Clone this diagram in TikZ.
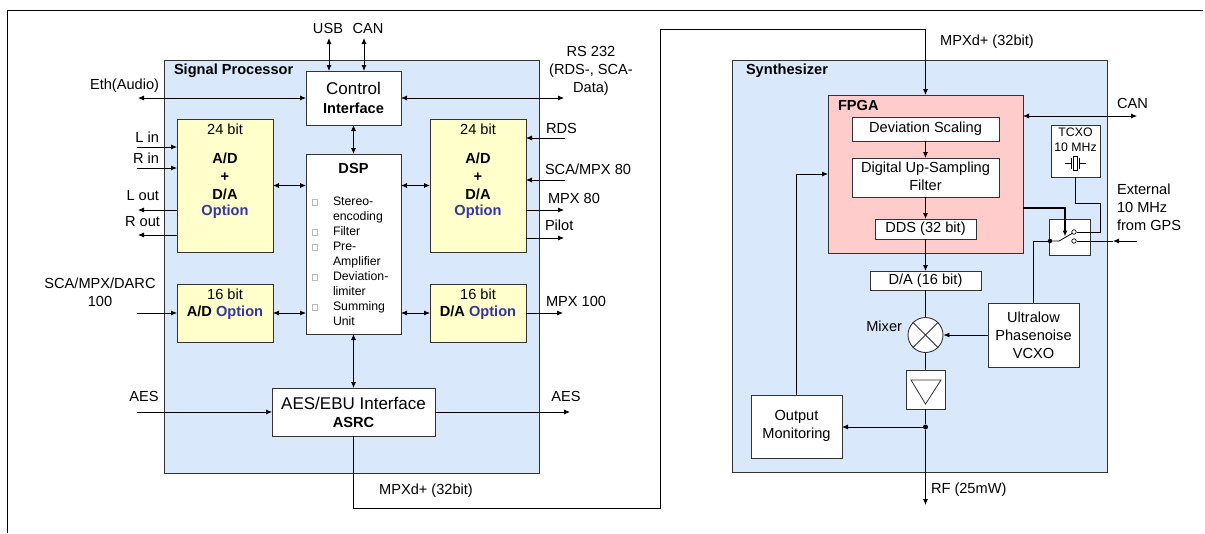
\documentclass[tikz,border=0pt]{standalone}
\usepackage{fontspec}
\setmainfont{Liberation Sans}
\usetikzlibrary{arrows.meta}
\definecolor{panel}{HTML}{DAE8FC}
\definecolor{yel}{HTML}{FFFFCC}
\definecolor{pinkf}{HTML}{FFCCCC}
\definecolor{optblue}{HTML}{3535A5}
\definecolor{edge}{HTML}{333333}
\newcommand\myN{\fontsize{14.6}{18}\selectfont}
\newcommand\myL{\fontsize{17}{19}\selectfont}
\newcommand\myS{\fontsize{12.3}{15}\selectfont}
\tikzset{
  panelbox/.style={draw=edge, fill=panel, line width=1pt, anchor=north west, inner sep=0pt, outer sep=0pt},
  wbox/.style={draw=edge, fill=white, line width=0.9pt, anchor=north west, inner sep=0pt, outer sep=0pt},
  ybox/.style={wbox, fill=yel},
  pbox/.style={wbox, fill=pinkf},
  txt/.style={inner sep=0pt, outer sep=0pt, align=center, font=\myN},
  ln/.style={line width=0.8pt, draw=black},
  arr/.style={ln, -{Latex[length=6pt,width=5pt]}},
  darr/.style={ln, {Latex[length=6pt,width=5pt]}-{Latex[length=6pt,width=5pt]}},
  dot/.style={circle, fill=black, inner sep=0pt, minimum size=5pt},
  ring/.style={circle, draw=black, fill=white, line width=0.7pt, inner sep=0pt, minimum size=4.5pt},
}
\begin{document}
\begin{tikzpicture}[x=1pt,y=-1pt]
\fill[white] (0,0) rectangle (1205,533);
\useasboundingbox (0,0) rectangle (1205,533);
% outer frame
\draw[ln] (7,533) -- (7,10) -- (1203,10);

% ================= Signal processor =================
\node[panelbox, minimum width=375pt, minimum height=413pt] (sp) at (164,60) {};
\node[txt, font=\myN\bfseries, anchor=west] (spl) at (174,71) {Signal Processor};

\node[wbox, minimum width=95pt, minimum height=54pt] (ctrl) at (306,71) {};
\node[txt, font=\myL] (ctrlA) at (353.5,88.5) {Control};
\node[txt, font=\myN\bfseries] (ctrlB) at (353.5,108) {Interface};

\node[wbox, minimum width=95pt, minimum height=180pt] (dsp) at (306,154) {};
\node[txt, font=\myN\bfseries] (dspl) at (353.5,168) {DSP};
\foreach \t/\yy [count=\i] in {Stereo-/202, encoding/217, Filter/232, Pre-/247, Amplifier/262, Deviation-/277, limiter/292, Summing/307, Unit/322}
  \node[txt, font=\myS, anchor=west, text height=9pt, text depth=2.6pt] (dli\i) at (333,\yy) {\t};
\foreach \yy in {202,232,247,277,307}
  \draw[gray!55, line width=0.6pt] (312,\yy-3) rectangle (317,\yy+3);

\node[ybox, minimum width=96pt, minimum height=133pt] (adl) at (177,119) {};
\node[txt] (adl1) at (225,129) {24 bit};
\node[txt, font=\myN\bfseries] (adl2) at (225,158) {A/D};
\node[txt, font=\myN\bfseries] (adl3) at (225,177) {+};
\node[txt, font=\myN\bfseries] (adl4) at (225,194) {D/A};
\node[txt, font=\myN\bfseries, text=optblue] (adl5) at (225,212) {Option};

\node[ybox, minimum width=96pt, minimum height=133pt] (adr) at (430,119) {};
\node[txt] (adr1) at (478,129) {24 bit};
\node[txt, font=\myN\bfseries] (adr2) at (478,158) {A/D};
\node[txt, font=\myN\bfseries] (adr3) at (478,177) {+};
\node[txt, font=\myN\bfseries] (adr4) at (478,194) {D/A};
\node[txt, font=\myN\bfseries, text=optblue] (adr5) at (478,212) {Option};

\node[ybox, minimum width=96pt, minimum height=58pt] (ad16) at (177,284) {};
\node[txt] (ad161) at (225,294) {16 bit};
\node[txt, font=\myN\bfseries] (ad162) at (225,313) {A/D \textcolor{optblue}{Option}};

\node[ybox, minimum width=96pt, minimum height=58pt] (da16) at (430,284) {};
\node[txt] (da161) at (478,294) {16 bit};
\node[txt, font=\myN\bfseries] (da162) at (478,313) {D/A \textcolor{optblue}{Option}};

\node[wbox, minimum width=163pt, minimum height=48pt] (aes) at (272,388) {};
\node[txt, font=\myL] (aesA) at (353.5,403) {AES/EBU Interface};
\node[txt, font=\myN\bfseries] (aesB) at (353.5,422) {ASRC};

% labels left/right
\node[txt] (usb) at (328,28) {USB};
\node[txt] (can1) at (368,28) {CAN};
\node[txt, anchor=east] (eth) at (159,86) {Eth(Audio)};
\node[txt] (rs) at (591,71) {RS 232\\(RDS-, SCA-\\Data)};
\node[txt, anchor=east] (lin) at (159,137) {L in};
\node[txt, anchor=east] (rin) at (159,158) {R in};
\node[txt, anchor=east] (lout) at (159,196) {L out};
\node[txt, anchor=east] (rout) at (160,222) {R out};
\node[txt, anchor=west] (rds) at (546,128) {RDS};
\node[txt, anchor=west] (sca80) at (545,169) {SCA/MPX 80};
\node[txt, anchor=west] (mpx80) at (548,198) {MPX 80};
\node[txt, anchor=west] (pilot) at (545,225) {Pilot};
\node[txt] (darc) at (100,292.5) {SCA/MPX/DARC\\100};
\node[txt, anchor=west] (mpx100) at (546,301) {MPX 100};
\node[txt] (aesl) at (144,396) {AES};
\node[txt] (aesr) at (566,396) {AES};
\node[txt] (mpxd1) at (426,491) {MPXd+ (32bit)};

% free ends
\coordinate (usbE) at (329,38);
\coordinate (canE) at (364,38);
\coordinate (ethE) at (138,98);
\coordinate (rsE) at (564,98);
\coordinate (linE) at (137,147);
\coordinate (rinE) at (137,168);
\coordinate (loutE) at (138,210);
\coordinate (routE) at (138,235);
\coordinate (rdsE) at (565,138);
\coordinate (sca80E) at (565,180);
\coordinate (mpx80E) at (564,210);
\coordinate (pilotE) at (564,238);
\coordinate (darcE) at (137,313);
\coordinate (mpx100E) at (563,313);
\coordinate (aesInE) at (137,412);
\coordinate (aesOutE) at (570,412);

% connectors
\draw[darr] (usbE) -- (usbE |- ctrl.north);
\draw[darr] (canE) -- (canE |- ctrl.north);
\draw[darr] (ethE) -- (ethE -| ctrl.west);
\draw[darr] (rsE -| ctrl.east) -- (rsE);
\draw[darr] (ctrl.south) -- (dsp.north);
\draw[arr] (linE) -- (linE -| adl.west);
\draw[arr] (rinE) -- (rinE -| adl.west);
\draw[arr] (loutE -| adl.west) -- (loutE);
\draw[arr] (routE -| adl.west) -- (routE);
\draw[darr] (adl.east) -- (adl.east -| dsp.west);
\draw[darr] (adr.west -| dsp.east) -- (adr.west);
\draw[arr] (rdsE) -- (rdsE -| adr.east);
\draw[arr] (sca80E) -- (sca80E -| adr.east);
\draw[arr] (mpx80E -| adr.east) -- (mpx80E);
\draw[arr] (pilotE -| adr.east) -- (pilotE);
\draw[arr] (darcE) -- (ad16.west);
\draw[darr] (ad16.east) -- (ad16.east -| dsp.west);
\draw[darr] (da16.west -| dsp.east) -- (da16.west);
\draw[arr] (da16.east) -- (mpx100E);
\draw[darr] (dsp.south) -- (aes.north);
\draw[arr] (aesInE) -- (aesInE -| aes.west);
\draw[arr] (aes.east) -- (aesOutE);

% ================= Synthesizer =================
\node[panelbox, minimum width=375pt, minimum height=412pt] (syn) at (732,60) {};
\node[txt, font=\myN\bfseries, anchor=west] (synl) at (746,71) {Synthesizer};

\node[pbox, minimum width=195pt, minimum height=158pt] (fpga) at (828,95) {};
\node[txt, font=\myN\bfseries, anchor=west] (fpgal) at (838,105) {FPGA};

\node[wbox, minimum width=147pt, minimum height=24pt] (dev) at (852,117) {};
\node[txt] (devl) at (925.5,129) {Deviation Scaling};
\node[wbox, minimum width=147pt, minimum height=39pt] (dusf) at (852,158) {};
\node[txt] (dusfl) at (925.5,176.5) {Digital Up-Sampling\\Filter};
\node[wbox, minimum width=101pt, minimum height=20pt] (dds) at (875,219) {};
\node[txt] (ddsl) at (925.5,229) {DDS (32 bit)};
\node[wbox, minimum width=111pt, minimum height=19pt] (dac) at (870,271) {};
\node[txt] (dacl) at (925.5,280.5) {D/A (16 bit)};

\node[circle, draw=edge, fill=white, line width=0.9pt, minimum size=35pt, inner sep=0pt] (mix) at (925.5,335) {};
\draw[line width=0.8pt, draw=edge] (mix.north west) -- (mix.south east);
\draw[line width=0.8pt, draw=edge] (mix.north east) -- (mix.south west);
\node[txt, anchor=east] (mixl) at (902,326) {Mixer};

\node[wbox, minimum width=39pt, minimum height=39pt] (amp) at (906,370) {};
\draw[line width=0.8pt, draw=edge] (911,380) -- (941,380) -- (925.5,404) -- cycle;

\node[wbox, minimum width=91pt, minimum height=63pt] (om) at (751,395) {};
\node[txt] (oml) at (796.5,426) {Output\\Monitoring};

\node[wbox, minimum width=91pt, minimum height=64pt] (vcxo) at (988,303) {};
\node[txt] (vcxol) at (1033.5,335) {Ultralow\\Phasenoise\\VCXO};

\node[wbox, minimum width=49pt, minimum height=52pt] (tcxo) at (1051,125) {};
\node[txt, font=\myS] (tcxol) at (1075.5,140) {TCXO\\10 MHz};
% crystal symbol
\draw[line width=0.7pt] (1065,163) -- (1071.5,163) (1071.5,157.5) -- (1071.5,168.5)
  (1079.5,157.5) -- (1079.5,168.5) (1079.5,163) -- (1086,163);
\draw[line width=0.7pt] (1073.7,156) rectangle (1077.3,170);

\node[wbox, minimum width=41pt, minimum height=36pt] (sw) at (1049,219) {};
\node[dot, minimum size=4.5pt] (swDot) at (1050,241) {};
\node[ring] (swU) at (1074,232) {};
\node[ring] (swD) at (1074,241) {};
\coordinate (lev) at (1072,233.5);
\draw[ln] (swDot) -- (1059,241) -- (lev);

\node[txt, anchor=west] (can2) at (1117,103) {CAN};
\node[txt, anchor=west, align=left] (ext) at (1117,207) {External\\10 MHz\\from GPS};
\node[txt] (mpxd2) at (987,42) {MPXd+ (32bit)};
\node[txt, anchor=west] (rf) at (931,490) {RF (25mW)};

\coordinate (canE2) at (1137,116);
\coordinate (extE) at (1137,241);
\coordinate (extM) at (1113,241);
\coordinate (rfE) at (925.5,505);
\coordinate (lpA) at (660,508);
\coordinate (lpB) at (660,29);
\coordinate (swArr) at (1065,236.5);
\coordinate (tcR) at (1100,203);
\node[dot] (jn) at (925.5,427) {};

% connectors synthesizer
\draw[arr] (aes.south) |- (lpA) -- (lpB) -| (fpga.north);
\draw[darr] (fpga.east |- canE2) -- (canE2);
\draw[arr] (dev.south) -- (dusf.north);
\draw[arr] (dusf.south) -- (dds.north);
\draw[arr] (dds.south) -- (dac.north);
\draw[ln] (dac.south) -- (mix.north);
\draw[ln] (mix.south) -- (amp.north);
\draw[ln] (amp.south) -- (jn);
\draw[arr] (jn) -- (rfE);
\draw[arr] (jn) -- (jn -| om.east);
\draw[arr] (om.north) |- (fpga.west |- 0,174);
\draw[arr] (vcxo.west) -- (mix.east);
\draw[ln] (swDot) -| (vcxo.north);
\draw[ln] (tcxo.south) |- (tcR) |- (swU);
\draw[arr] (extE) -- (extM);
\draw[ln] (extM) -- (swD);
\draw[line width=1.2pt, -{Latex[length=6pt,width=5pt]}] (fpga.east |- 0,208) -| (swArr);
\end{tikzpicture}
\end{document}
